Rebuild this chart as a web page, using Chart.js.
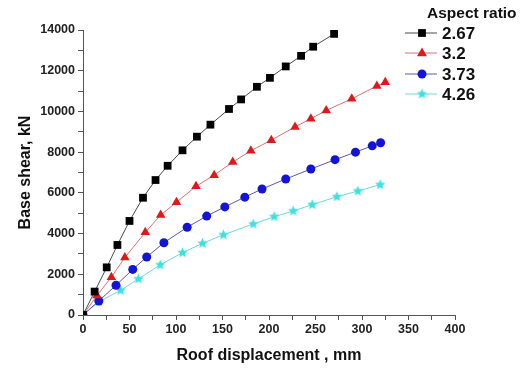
<!DOCTYPE html>
<html>
    <head>
        <title>Base shear vs roof displacement</title>
        <meta charset="UTF-8" />
        <script src="https://cdn.jsdelivr.net/npm/chart.js"></script>
        <style>
            body { margin: 0; background: #fff; }
            #wrap { width: 521px; height: 369px; }
        </style>
    </head>
    <body>
        <div id="wrap">
            <canvas id="myChart" width="521" height="369"></canvas>
        </div>
        <script>
            // データ (Roof displacement mm / Base shear kN)
            const seriesNames = ['2.67', '3.2', '3.73', '4.26'];
            const x267 = [0, 12.5, 25.5, 37, 50, 64.5, 78, 91, 107, 122.5, 137, 157, 170, 187, 201, 218, 234.5, 247.5, 270];
            const y267 = [0, 1150, 2340, 3440, 4620, 5760, 6630, 7330, 8090, 8760, 9350, 10120, 10590, 11210, 11650, 12210, 12730, 13180, 13810];
            const x32 = [0, 15, 30.5, 45, 67, 83.5, 100.5, 121.5, 141, 161, 180.5, 202.5, 228, 245, 261.5, 289, 316, 325];
            const y32 = [0, 960, 1860, 2820, 4060, 4910, 5540, 6320, 6870, 7510, 8070, 8590, 9240, 9640, 10050, 10620, 11250, 11430];
            const x373 = [0, 17, 35.5, 53.5, 68.5, 87, 112, 133, 152.5, 174, 192.5, 218, 245, 271, 293, 311, 320];
            const y373 = [0, 690, 1460, 2240, 2850, 3550, 4310, 4860, 5310, 5790, 6190, 6680, 7170, 7630, 8000, 8310, 8460];
            const x426 = [0, 17, 40.5, 59.5, 83, 107, 128.5, 151, 183, 205.5, 226, 246.5, 273, 295.5, 319.5];
            const y426 = [0, 650, 1210, 1770, 2460, 3060, 3520, 3940, 4470, 4830, 5110, 5420, 5810, 6090, 6400];

            function toPoints(xs, ys) {
                return xs.map(function (x, i) { return { x: x, y: ys[i] }; });
            }

            // 塗りつぶしの星マーカー
            function makeStar(color, r) {
                var c = document.createElement('canvas');
                var s = Math.ceil(r * 2 + 2);
                c.width = s; c.height = s;
                var g = c.getContext('2d');
                g.fillStyle = color;
                g.beginPath();
                for (var i = 0; i < 10; i++) {
                    var rr = (i % 2 === 0) ? r : r * 0.45;
                    var a = -Math.PI / 2 + i * Math.PI / 5;
                    var px = s / 2 + rr * Math.cos(a), py = s / 2 + rr * Math.sin(a);
                    if (i === 0) g.moveTo(px, py); else g.lineTo(px, py);
                }
                g.closePath();
                g.fill();
                return c;
            }
            var starImg = makeStar('#3ee0e0', 5.5);

            var lineColors = ['#4a4a4a', '#e07070', '#5a5aa8', '#70d8d8'];
            var markColors = ['#000000', '#e01818', '#1414d8', '#3ee0e0'];
            var markStyles = ['rect', 'triangle', 'circle', starImg];
            var markRadius = [5.5, 5.5, 4.5, 5];

            var datasets = [[x267, y267], [x32, y32], [x373, y373], [x426, y426]].map(function (d, i) {
                return {
                    label: seriesNames[i],
                    data: toPoints(d[0], d[1]),
                    showLine: true,
                    borderColor: lineColors[i],
                    borderWidth: 1,
                    backgroundColor: markColors[i],
                    pointBackgroundColor: markColors[i],
                    pointBorderColor: markColors[i],
                    pointBorderWidth: 0,
                    pointStyle: markStyles[i],
                    pointRadius: markRadius[i],
                    tension: 0
                };
            });

            // 凡例 (手描き)
            function drawMarker(ctx, i, x, y) {
                var r = markRadius[i];
                ctx.fillStyle = markColors[i];
                ctx.beginPath();
                if (i === 0) {
                    var s = Math.SQRT1_2 * r;
                    ctx.rect(x - s, y - s, 2 * s, 2 * s);
                    ctx.fill();
                } else if (i === 1) {
                    ctx.moveTo(x, y - r);
                    ctx.lineTo(x + r * 0.9, y + r * 0.6);
                    ctx.lineTo(x - r * 0.9, y + r * 0.6);
                    ctx.closePath();
                    ctx.fill();
                } else if (i === 2) {
                    ctx.arc(x, y, r, 0, Math.PI * 2);
                    ctx.fill();
                } else {
                    ctx.drawImage(starImg, x - starImg.width / 2, y - starImg.height / 2);
                }
            }
            var legendPlugin = {
                id: 'aspectLegend',
                afterDraw: function (chart) {
                    var ctx = chart.ctx;
                    ctx.save();
                    ctx.fillStyle = '#111';
                    ctx.font = 'bold 15.5px "Liberation Sans", Arial, sans-serif';
                    ctx.textBaseline = 'middle';
                    ctx.fillText('Aspect ratio', 427, 14);
                    var rows = [33, 53, 74, 94];
                    for (var i = 0; i < 4; i++) {
                        var y = rows[i];
                        ctx.strokeStyle = lineColors[i];
                        ctx.lineWidth = 1;
                        ctx.beginPath();
                        ctx.moveTo(405, y);
                        ctx.lineTo(437, y);
                        ctx.stroke();
                        drawMarker(ctx, i, 422, y);
                        ctx.fillStyle = '#111';
                        ctx.font = 'bold 17px "Liberation Sans", Arial, sans-serif';
                        ctx.fillText(seriesNames[i], 442, y + 1);
                    }
                    ctx.restore();
                }
            };

            var tickFont = { family: '"Liberation Sans", Arial, sans-serif', size: 12.5, weight: 'bold' };
            var titleFont = { family: '"Liberation Sans", Arial, sans-serif', size: 16, weight: 'bold' };

            var ctx = document.getElementById('myChart').getContext('2d');
            var myChart = new Chart(ctx, {
                type: 'scatter',
                data: { datasets: datasets },
                options: {
                    responsive: false,
                    animation: false,
                    layout: { padding: { top: 30, right: 66, left: 0, bottom: 0 } },
                    plugins: { legend: { display: false }, tooltip: { enabled: false } },
                    scales: {
                        x: {
                            type: 'linear',
                            min: 0,
                            max: 400,
                            border: { display: true, color: '#555', width: 1 },
                            grid: { drawOnChartArea: false, drawTicks: true, tickLength: 5, tickColor: '#555' },
                            ticks: {
                                stepSize: 25,
                                autoSkip: false,
                                maxRotation: 0,
                                color: '#222',
                                font: tickFont,
                                padding: 2,
                                callback: function (v) { return v % 50 === 0 ? v : ''; }
                            },
                            title: { display: true, text: 'Roof displacement , mm', color: '#111', font: titleFont, padding: { top: 7 } },
                            afterFit: function (scale) { scale.height = 54; }
                        },
                        y: {
                            type: 'linear',
                            min: 0,
                            max: 14000,
                            border: { display: true, color: '#555', width: 1 },
                            grid: { drawOnChartArea: false, drawTicks: true, tickLength: 5, tickColor: '#555' },
                            ticks: {
                                stepSize: 1000,
                                autoSkip: false,
                                color: '#222',
                                font: tickFont,
                                padding: 3,
                                callback: function (v) { return v % 2000 === 0 ? v : ''; }
                            },
                            title: { display: true, text: 'Base shear, kN', color: '#111', font: titleFont, padding: { top: 16, bottom: 4 } },
                            afterFit: function (scale) { scale.width = 83; }
                        }
                    }
                },
                plugins: [legendPlugin]
            });
        </script>
    </body>
</html>
